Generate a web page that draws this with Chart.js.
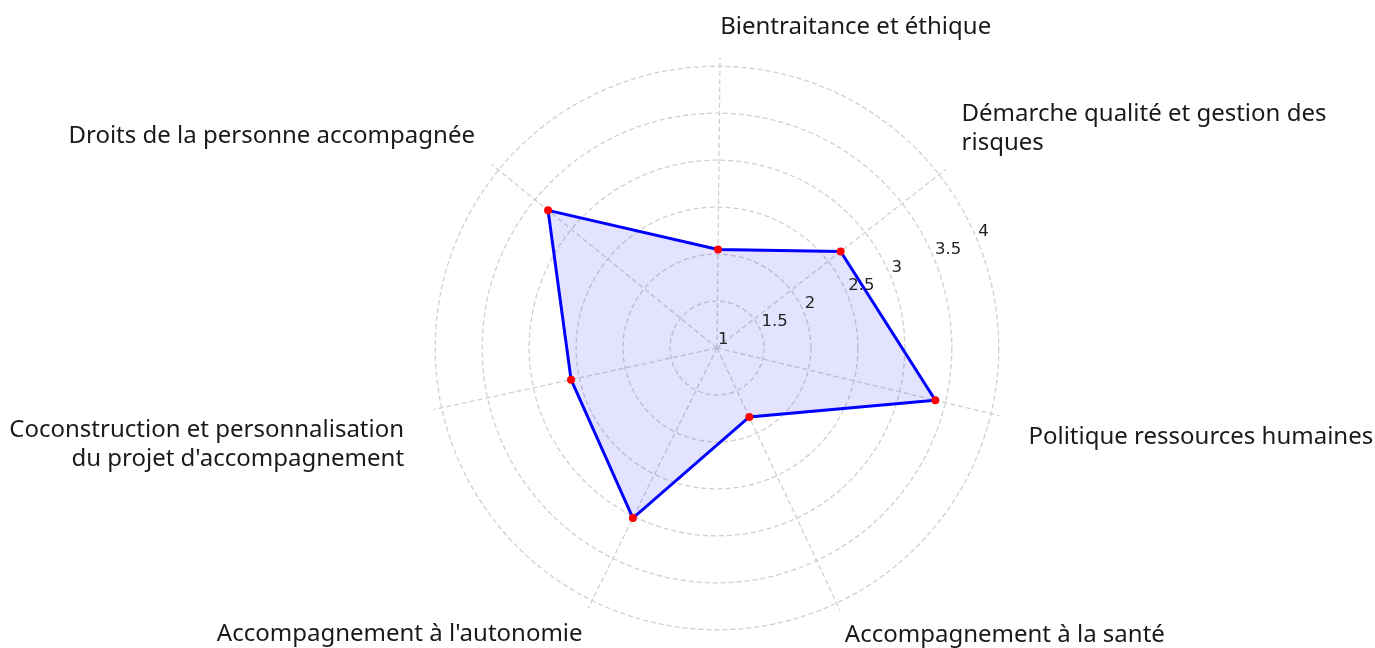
<!DOCTYPE html>
<html lang="fr">
<head>
  <meta charset="UTF-8" />
  <title>Radar - évaluation</title>
  <script src="https://cdn.jsdelivr.net/npm/chart.js"></script>
  <style>
    html, body {
      margin: 0;
      padding: 0;
      background: #ffffff;
      overflow: hidden;
    }
    /* canvas is a bit larger than the window so the radar sits where the original one does */
    #wrap {
      position: absolute;
      left: -40px;
      top: -5px;
      width: 1514px;
      height: 670px;
    }
  </style>
</head>
<body>
  <div id="wrap"><canvas id="radar"></canvas></div>

  <script>
    const categories = [
      "Bientraitance et éthique",
      ["Démarche qualité et gestion des", "risques"],
      "Politique ressources humaines",
      "Accompagnement à la santé",
      "Accompagnement à l'autonomie",
      ["Coconstruction et personnalisation", "du projet d'accompagnement"],
      "Droits de la personne accompagnée"
    ];
    const scores = [2.05, 2.67, 3.39, 1.81, 3.02, 2.59, 3.32];
    const rTicks = [1, 1.5, 2, 2.5, 3, 3.5, 4];
    const rMin = 1;
    const rMax = 4.09;

    // distance of each category label from the outer ring
    const labelPadding = [16, 20, 30, 11, 13, 30, 22];

    // radial tick labels drawn along a slanted ray, like the original
    const tickLabelsPlugin = {
      id: 'tickLabels',
      afterDatasetsDraw(chart) {
        const s = chart.scales.r;
        const ctx = chart.ctx;
        const a = -22.5 * Math.PI / 180;
        ctx.save();
        ctx.font = '16.5px "DejaVu Sans"';
        ctx.fillStyle = '#222222';
        ctx.textAlign = 'left';
        ctx.textBaseline = 'alphabetic';
        s.ticks.forEach(t => {
          const d = s.getDistanceFromCenterForValue(t.value);
          const x = s.xCenter + d * Math.cos(a);
          const y = s.yCenter + d * Math.sin(a);
          ctx.fillText(t.label, x + 1, y - 4);
        });
        ctx.restore();
      }
    };

    new Chart(document.getElementById('radar'), {
      type: 'radar',
      data: {
        labels: categories,
        datasets: [{
          data: scores,
          borderColor: '#0000ff',
          borderWidth: 3,
          backgroundColor: 'rgba(0, 0, 255, 0.11)',
          fill: true,
          tension: 0,
          pointRadius: 4,
          pointBorderWidth: 0,
          pointBackgroundColor: '#ff0000'
        }]
      },
      options: {
        responsive: true,
        maintainAspectRatio: false,
        animation: false,
        layout: { padding: 0 },
        plugins: {
          legend: { display: false },
          tooltip: { enabled: false }
        },
        scales: {
          r: {
            min: rMin,
            max: rMax,
            startAngle: 0.6,
            afterBuildTicks: s => { s.ticks = rTicks.map(v => ({ value: v })); },
            ticks: { display: false, callback: v => String(v) },
            grid: {
              circular: true,
              color: '#d0d0d0',
              lineWidth: 1.3
            },
            border: { dash: [5, 3] },
            angleLines: {
              color: '#d0d0d0',
              lineWidth: 1.3,
              borderDash: [5, 3]
            },
            pointLabels: {
              color: '#1a1a1a',
              font: { family: '"Noto Sans"', size: 24 },
              padding: c => labelPadding[c.index]
            }
          }
        }
      },
      plugins: [tickLabelsPlugin]
    });
  </script>
</body>
</html>
